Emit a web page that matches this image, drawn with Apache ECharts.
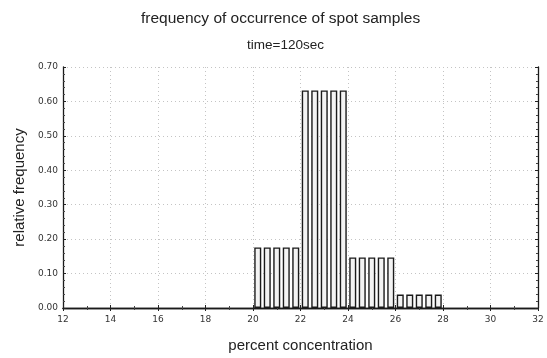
<!DOCTYPE html>
<html>
<head>
<meta charset="utf-8">
<script src="https://cdn.jsdelivr.net/npm/echarts@6/dist/echarts.min.js"></script>
<style>
  html, body { margin: 0; padding: 0; background: #ffffff; }
  #chart { width: 547px; height: 358px; }
</style>
</head>
<body>
<div id="chart"></div>
<script>
// Bin centres (percent concentration) and their relative frequencies
const binCentres = [20.2, 20.6, 21.0, 21.4, 21.8,
                    22.2, 22.6, 23.0, 23.4, 23.8,
                    24.2, 24.6, 25.0, 25.4, 25.8,
                    26.2, 26.6, 27.0, 27.4, 27.8];
const relFreq = [0.176, 0.176, 0.176, 0.176, 0.176,
                 0.632, 0.632, 0.632, 0.632, 0.632,
                 0.147, 0.147, 0.147, 0.147, 0.147,
                 0.039, 0.039, 0.039, 0.039, 0.039];
const xTicks = [12, 14, 16, 18, 20, 22, 24, 26, 28, 30, 32];
const yTicks = [0.0, 0.1, 0.2, 0.3, 0.4, 0.5, 0.6, 0.7];

const font = 'Liberation Sans, Arial, sans-serif';
const tickFont = 'DejaVu Sans, sans-serif';
const chart = echarts.init(document.getElementById('chart'));

const frameAxis = {
  axisLine: { show: true, lineStyle: { color: '#1a1a1a', width: 1.3 } },
  axisTick: { show: true, inside: true, length: 3, lineStyle: { color: '#222' } },
  axisLabel: { show: false },
  splitLine: { show: false }
};
const gridLine = { show: true, lineStyle: { color: '#c4c4c4', type: [1, 3], width: 1 } };

chart.setOption({
  backgroundColor: '#ffffff',
  animation: false,
  title: [
    { text: 'frequency of occurrence of spot samples', left: 136, top: 6,
      textStyle: { fontFamily: font, fontSize: 15.5, fontWeight: 'normal', color: '#222' } },
    { text: 'time=120sec', left: 242, top: 33,
      textStyle: { fontFamily: font, fontSize: 13.5, fontWeight: 'normal', color: '#222' } }
  ],
  grid: { left: 63, right: 9, top: 67, bottom: 47 },
  xAxis: [
    Object.assign({}, frameAxis, {
      type: 'value', min: xTicks[0], max: xTicks[xTicks.length - 1], interval: 2,
      minorTick: { show: true, splitNumber: 2, length: 2, lineStyle: { color: '#444' } },
      axisLabel: { show: true, fontFamily: tickFont, fontSize: 9, color: '#333', margin: 7 },
      splitLine: gridLine,
      name: 'percent concentration', nameLocation: 'middle', nameGap: 30,
      nameTextStyle: { fontFamily: font, fontSize: 15, color: '#222' }
    }),
    Object.assign({}, frameAxis, {
      type: 'value', position: 'top', min: 12, max: 32, interval: 2,
      minorTick: { show: true, splitNumber: 2, length: 2, lineStyle: { color: '#444' } }
    })
  ],
  yAxis: [
    Object.assign({}, frameAxis, {
      type: 'value', min: yTicks[0], max: yTicks[yTicks.length - 1], interval: 0.1,
      minorTick: { show: true, splitNumber: 5, length: 2, lineStyle: { color: '#444' } },
      axisLabel: { show: true, fontFamily: tickFont, fontSize: 9, color: '#333', margin: 5,
                   formatter: v => v.toFixed(2) },
      splitLine: gridLine,
      name: 'relative frequency', nameLocation: 'middle', nameGap: 35,
      nameTextStyle: { fontFamily: font, fontSize: 15, color: '#222' }
    }),
    Object.assign({}, frameAxis, {
      type: 'value', position: 'right', min: 0, max: 0.7, interval: 0.1,
      minorTick: { show: true, splitNumber: 5, length: 2, lineStyle: { color: '#444' } }
    })
  ],
  series: [{
    type: 'bar',
    xAxisIndex: 0, yAxisIndex: 0,
    barWidth: 7,
    data: binCentres.map((x, i) => [x, relFreq[i]]),
    itemStyle: { color: '#f3f3f3', borderColor: '#1a1a1a', borderWidth: 1.4 },
    z: 3
  }]
});
</script>
</body>
</html>
